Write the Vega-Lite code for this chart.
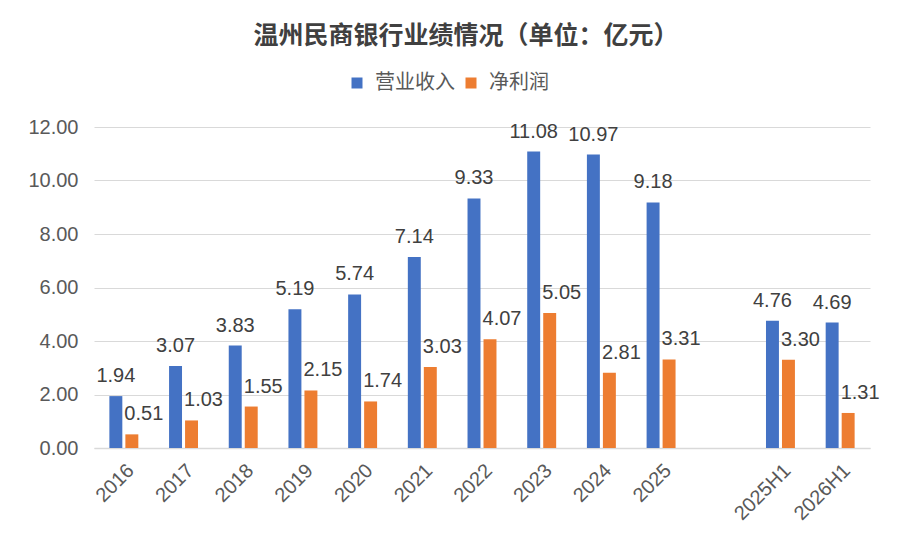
{
  "$schema": "https://vega.github.io/schema/vega-lite/v6.json",
  "width": 776,
  "height": 321,
  "autosize": {"type": "none"},
  "padding": {"left": 94, "top": 127, "right": 30, "bottom": 110},
  "background": "#ffffff",
  "title": {
    "text": "温州民商银行业绩情况（单位：亿元）",
    "font": "Noto Sans CJK SC",
    "fontSize": 25,
    "fontWeight": "bold",
    "color": "#404040",
    "anchor": "middle",
    "dx": -16,
    "offset": 24
  },
  "data": {
    "values": [
      {"period": "2016", "series": "营业收入", "value": 1.94},
      {"period": "2016", "series": "净利润", "value": 0.51},
      {"period": "2017", "series": "营业收入", "value": 3.07},
      {"period": "2017", "series": "净利润", "value": 1.03},
      {"period": "2018", "series": "营业收入", "value": 3.83},
      {"period": "2018", "series": "净利润", "value": 1.55},
      {"period": "2019", "series": "营业收入", "value": 5.19},
      {"period": "2019", "series": "净利润", "value": 2.15},
      {"period": "2020", "series": "营业收入", "value": 5.74},
      {"period": "2020", "series": "净利润", "value": 1.74},
      {"period": "2021", "series": "营业收入", "value": 7.14},
      {"period": "2021", "series": "净利润", "value": 3.03},
      {"period": "2022", "series": "营业收入", "value": 9.33},
      {"period": "2022", "series": "净利润", "value": 4.07},
      {"period": "2023", "series": "营业收入", "value": 11.08},
      {"period": "2023", "series": "净利润", "value": 5.05},
      {"period": "2024", "series": "营业收入", "value": 10.97},
      {"period": "2024", "series": "净利润", "value": 2.81},
      {"period": "2025", "series": "营业收入", "value": 9.18},
      {"period": "2025", "series": "净利润", "value": 3.31},
      {"period": "2025H1", "series": "营业收入", "value": 4.76},
      {"period": "2025H1", "series": "净利润", "value": 3.30},
      {"period": "2026H1", "series": "营业收入", "value": 4.69},
      {"period": "2026H1", "series": "净利润", "value": 1.31}
    ]
  },
  "encoding": {
    "x": {
      "field": "period",
      "type": "nominal",
      "title": null,
      "sort": null,
      "scale": {
        "domain": ["2016", "2017", "2018", "2019", "2020", "2021", "2022", "2023", "2024", "2025", " ", "2025H1", "2026H1"],
        "paddingInner": 0.515,
        "paddingOuter": 0.2575
      },
      "axis": {
        "labelAngle": -45,
        "labelFont": "Liberation Sans",
        "labelFontSize": 20,
        "labelColor": "#595959",
        "labelPadding": 12,
        "ticks": false,
        "domainColor": "#d9d9d9",
        "domainWidth": 1.5,
        "grid": false
      }
    },
    "xOffset": {
      "field": "series",
      "type": "nominal",
      "sort": ["营业收入", "净利润"],
      "scale": {"paddingInner": 0.19, "paddingOuter": 0}
    },
    "y": {
      "field": "value",
      "type": "quantitative",
      "title": null,
      "scale": {"domain": [0, 12], "nice": false},
      "axis": {
        "values": [0, 2, 4, 6, 8, 10, 12],
        "format": ".2f",
        "labelFont": "Liberation Sans",
        "labelFontSize": 20,
        "labelColor": "#595959",
        "labelPadding": 16,
        "domain": false,
        "ticks": false,
        "gridColor": "#d9d9d9",
        "gridWidth": 1.2
      }
    }
  },
  "layer": [
    {
      "mark": {"type": "bar"},
      "encoding": {
        "color": {
          "field": "series",
          "type": "nominal",
          "scale": {"domain": ["营业收入", "净利润"], "range": ["#4472C4", "#ED7D31"]},
          "legend": {
            "title": null,
            "orient": "none",
            "direction": "horizontal",
            "legendX": 253,
            "legendY": -54,
            "symbolType": "square",
            "symbolSize": 121,
            "symbolStrokeWidth": 0,
            "labelFont": "Noto Sans CJK SC",
            "labelFontSize": 20,
            "labelColor": "#595959",
            "labelOffset": 8,
            "columnPadding": 6
          }
        }
      }
    },
    {
      "transform": [{"filter": "datum.series == '营业收入'"}],
      "mark": {
        "type": "text",
        "font": "Liberation Sans",
        "fontSize": 20,
        "color": "#404040",
        "baseline": "alphabetic",
        "dy": -14
      },
      "encoding": {"text": {"field": "value", "type": "quantitative", "format": ".2f"}}
    },
    {
      "transform": [{"filter": "datum.series == '净利润'"}],
      "mark": {
        "type": "text",
        "font": "Liberation Sans",
        "fontSize": 20,
        "color": "#404040",
        "baseline": "alphabetic",
        "dx": 12,
        "dy": -14
      },
      "encoding": {"text": {"field": "value", "type": "quantitative", "format": ".2f"}}
    }
  ],
  "config": {
    "view": {"stroke": null}
  }
}
